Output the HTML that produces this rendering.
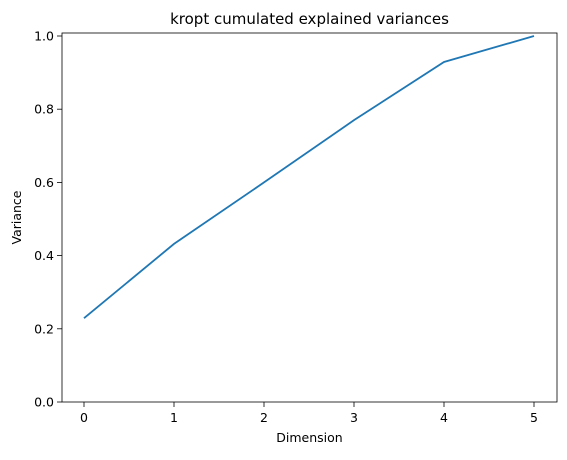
<!DOCTYPE html>
<html><head><meta charset="utf-8"><style>
body{margin:0;background:#fff;}
svg text{font-family:"DejaVu Sans","Liberation Sans",sans-serif;fill:#000;}
</style></head><body>
<svg width="567" height="455" viewBox="0 0 567 455" xmlns="http://www.w3.org/2000/svg">
<rect width="567" height="455" fill="#fff"/>
<g id="g"></g>
</svg>
<script>
const dims=[0,1,2,3,4,5];
const variances=[0.229,0.432,0.600,0.770,0.929,1.0];
const xTicks=[0,1,2,3,4,5];
const yTicks=[0.0,0.2,0.4,0.6,0.8,1.0];
const L=62,R=557,T=33,B=402;
const X=v=>84+v*90;
const Y=v=>B-v*366;
const g=document.getElementById('g');
const NS='http://www.w3.org/2000/svg';
function mk(t,a,p){const e=document.createElementNS(NS,t);for(const k in a)e.setAttribute(k,a[k]);(p||g).appendChild(e);return e;}
xTicks.forEach(v=>{
 const l=mk('line',{x1:X(v),x2:X(v),y1:B,y2:B+5,stroke:'#000','stroke-width':0.8});
 
 
 const t=mk('text',{x:X(v),y:B+20,'font-size':12.5,'text-anchor':'middle'});t.textContent=v;
 
 
});
yTicks.forEach(v=>{
 const l=mk('line',{x1:L-5,x2:L,y1:Y(v),y2:Y(v),stroke:'#000','stroke-width':0.8});
 
 
 const t=mk('text',{x:L-8,y:Y(v)+4.5,'font-size':12.5,'text-anchor':'end'});t.textContent=v.toFixed(1);
 
 
});
const line=mk('polyline',{points:dims.map((d,i)=>X(d)+','+Y(variances[i])).join(' '),fill:'none',stroke:'#1f77b4','stroke-width':1.8});


const fr=mk('rect',{x:L,y:T,width:R-L,height:B-T,fill:'none',stroke:'#000','stroke-width':0.8});


const tt=mk('text',{x:(L+R)/2,y:24,'font-size':15,'text-anchor':'middle'});tt.textContent='kropt cumulated explained variances';


const xl=mk('text',{x:(L+R)/2,y:442,'font-size':12.5,'text-anchor':'middle'});xl.textContent='Dimension';


const yl=mk('text',{x:0,y:0,'font-size':12.5,'text-anchor':'middle',transform:'translate(21,'+((T+B)/2)+') rotate(-90)'});yl.textContent='Variance';


</script>
</body></html>
